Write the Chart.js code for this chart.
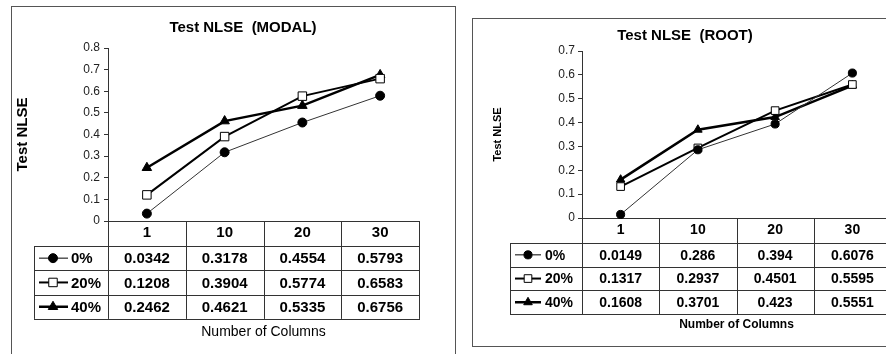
<!DOCTYPE html>
<html>
<head>
<meta charset="utf-8">
<script src="https://cdn.jsdelivr.net/npm/chart.js@4.4.0/dist/chart.umd.min.js"></script>
<style>
  html, body { margin: 0; padding: 0; background: #fff; overflow: hidden; }
  body { width: 886px; height: 354px; position: relative; }
  .frame { position: absolute; border: 1px solid #555; box-sizing: border-box; }
  #frameModal { left: 11px; top: 6px; width: 445px; height: 360px; }
  #frameRoot { left: 472px; top: 18px; width: 430px; height: 329px; }
  canvas { position: absolute; top: 0; }
  #modalChart { left: 0; }
  #rootChart { left: 460px; }
</style>
</head>
<body>
<div class="frame" id="frameModal"></div>
<div class="frame" id="frameRoot"></div>
<canvas id="modalChart" width="460" height="354"></canvas>
<canvas id="rootChart" width="440" height="354"></canvas>
<script>
// Data
const columns = ['1', '10', '20', '30'];
const seriesNames = ['0%', '20%', '40%'];

const modal0 = [0.0342, 0.3178, 0.4554, 0.5793];
const modal20 = [0.1208, 0.3904, 0.5774, 0.6583];
const modal40 = [0.2462, 0.4621, 0.5335, 0.6756];

const root0 = [0.0149, 0.286, 0.394, 0.6076];
const root20 = [0.1317, 0.2937, 0.4501, 0.5595];
const root40 = [0.1608, 0.3701, 0.423, 0.5551];

const FONT = "'Liberation Sans', Arial, sans-serif";

// Draws title + data table under the plot
const tablePlugin = {
    id: 'dataTable',
    afterDraw(chart, args, opts) {
        const { ctx, chartArea } = chart;
        const n = chart.data.labels.length;
        const colW = (chartArea.right - chartArea.left) / n;
        const crisp = v => Math.round(v) + 0.5;
        const top = chartArea.bottom;
        const headBottom = top + opts.headerHeight;
        const rows = chart.data.datasets.length;
        const bottom = headBottom + opts.rowHeight * rows;

        ctx.save();

        // title
        ctx.fillStyle = '#000';
        ctx.font = opts.titleFont;
        ctx.textAlign = 'center';
        ctx.textBaseline = 'middle';
        ctx.fillText(opts.title, opts.titleX, opts.titleY);

        // grid lines
        ctx.strokeStyle = '#333';
        ctx.lineWidth = 1;
        ctx.beginPath();
        for (let i = 0; i <= n; i++) {
            const x = crisp(chartArea.left + colW * i);
            ctx.moveTo(x, top);
            ctx.lineTo(x, bottom);
        }
        ctx.moveTo(crisp(opts.legendLeft), headBottom);
        ctx.lineTo(crisp(opts.legendLeft), bottom);
        for (let r = 0; r <= rows; r++) {
            const y = crisp(headBottom + opts.rowHeight * r);
            ctx.moveTo(opts.legendLeft, y);
            ctx.lineTo(chartArea.right + 1, y);
        }
        ctx.stroke();

        // rows
        ctx.font = opts.cellFont;
        chart.data.datasets.forEach((ds, r) => {
            const cy = headBottom + opts.rowHeight * (r + 0.5);
            // legend key
            ctx.strokeStyle = '#000';
            ctx.lineWidth = ds.borderWidth;
            ctx.beginPath();
            ctx.moveTo(opts.legendLeft + opts.keyStart, cy);
            ctx.lineTo(opts.legendLeft + opts.keyEnd, cy);
            ctx.stroke();
            ctx.fillStyle = ds.pointBackgroundColor;
            ctx.strokeStyle = '#000';
            ctx.lineWidth = 1;
            Chart.helpers.drawPoint(ctx, {
                pointStyle: ds.pointStyle,
                radius: ds.pointRadius,
                rotation: 0,
                borderWidth: 1
            }, opts.legendLeft + opts.keyMarker, cy);

            ctx.fillStyle = '#000';
            ctx.textAlign = 'left';
            ctx.fillText(ds.label, opts.legendLeft + opts.textStart, cy + 1);

            ctx.textAlign = 'center';
            ds.data.forEach((v, i) => {
                ctx.fillText(String(v), chartArea.left + colW * (i + 0.5), cy + 1);
            });
        });

        ctx.restore();
    }
};

function makeDatasets(values, markerScale) {
    return [
        {
            label: seriesNames[0], data: values[0],
            borderColor: '#333', borderWidth: 1,
            pointStyle: 'circle', pointRadius: 4.5 * markerScale,
            pointBackgroundColor: '#000', pointBorderColor: '#000', pointBorderWidth: 1
        },
        {
            label: seriesNames[1], data: values[1],
            borderColor: '#000', borderWidth: 2,
            pointStyle: 'rect', pointRadius: 6 * markerScale,
            pointBackgroundColor: '#fff', pointBorderColor: '#000', pointBorderWidth: 1
        },
        {
            label: seriesNames[2], data: values[2],
            borderColor: '#000', borderWidth: 2.5,
            pointStyle: 'triangle', pointRadius: 5.5 * markerScale,
            pointBackgroundColor: '#000', pointBorderColor: '#000', pointBorderWidth: 1
        }
    ].map(ds => Object.assign(ds, { tension: 0, clip: false, fill: false }));
}

function makeChart(id, cfg) {
    return new Chart(document.getElementById(id), {
        type: 'line',
        data: {
            labels: columns,
            datasets: makeDatasets(cfg.values, cfg.markerScale)
        },
        options: {
            responsive: false,
            devicePixelRatio: 1,
            animation: false,
            layout: { padding: cfg.padding },
            plugins: {
                legend: { display: false },
                tooltip: { enabled: false },
                title: { display: false },
                dataTable: cfg.table
            },
            scales: {
                y: {
                    min: 0,
                    max: cfg.yMax,
                    afterFit: s => { s.width = cfg.yWidth; },
                    ticks: {
                        stepSize: 0.1,
                        padding: cfg.yTickPad,
                        color: '#222',
                        font: { family: FONT, size: 12 }
                    },
                    grid: { drawOnChartArea: false, drawTicks: true, tickLength: 4, color: '#333' },
                    border: { color: '#333', width: 1 },
                    title: {
                        display: true,
                        text: 'Test NLSE',
                        color: '#000',
                        font: { family: FONT, size: cfg.yTitleSize, weight: 'bold' },
                        padding: { top: cfg.yTitlePad, bottom: 0 }
                    }
                },
                x: {
                    offset: true,
                    afterFit: s => { s.height = cfg.xHeight; },
                    ticks: {
                        padding: cfg.xTickPad,
                        color: '#000',
                        font: { family: FONT, size: cfg.table.headSize, weight: 'bold' }
                    },
                    grid: { display: false, drawTicks: false },
                    border: { color: '#333', width: 1 },
                    title: {
                        display: true,
                        text: 'Number of Columns',
                        color: '#000',
                        font: cfg.xTitleFont,
                        padding: { top: 0, bottom: cfg.xTitlePad }
                    }
                }
            }
        },
        plugins: [tablePlugin]
    });
}

makeChart('modalChart', {
    values: [modal0, modal20, modal40],
    markerScale: 1,
    yMax: 0.8,
    padding: { left: 12, top: 48, right: 41, bottom: 0 },
    yWidth: 96,
    yTickPad: 4,
    yTitleSize: 15,
    yTitlePad: 2,
    xHeight: 133,
    xTickPad: 3,
    xTitleFont: { family: FONT, size: 14 },
    xTitlePad: 13,
    table: {
        title: 'Test NLSE  (MODAL)', titleX: 243, titleY: 28,
        titleFont: 'bold 15px ' + FONT,
        cellFont: 'bold 15px ' + FONT, headSize: 15,
        headerHeight: 25, rowHeight: 24.3,
        legendLeft: 34, keyStart: 5, keyEnd: 34, keyMarker: 19, textStart: 37
    }
});

makeChart('rootChart', {
    values: [root0, root20, root40],
    markerScale: 0.9,
    yMax: 0.7,
    padding: { left: 12, top: 51, right: 9, bottom: 0 },
    yWidth: 110,
    yTickPad: 3,
    yTitleSize: 11,
    yTitlePad: 19,
    xHeight: 136,
    xTickPad: 4,
    xTitleFont: { family: FONT, size: 12, weight: 'bold' },
    xTitlePad: 22,
    table: {
        title: 'Test NLSE  (ROOT)', titleX: 225, titleY: 36,
        titleFont: 'bold 15px ' + FONT,
        cellFont: 'bold 14px ' + FONT, headSize: 14,
        headerHeight: 25, rowHeight: 23.7,
        legendLeft: 50, keyStart: 5, keyEnd: 31, keyMarker: 18, textStart: 35
    }
});
</script>
</body>
</html>
